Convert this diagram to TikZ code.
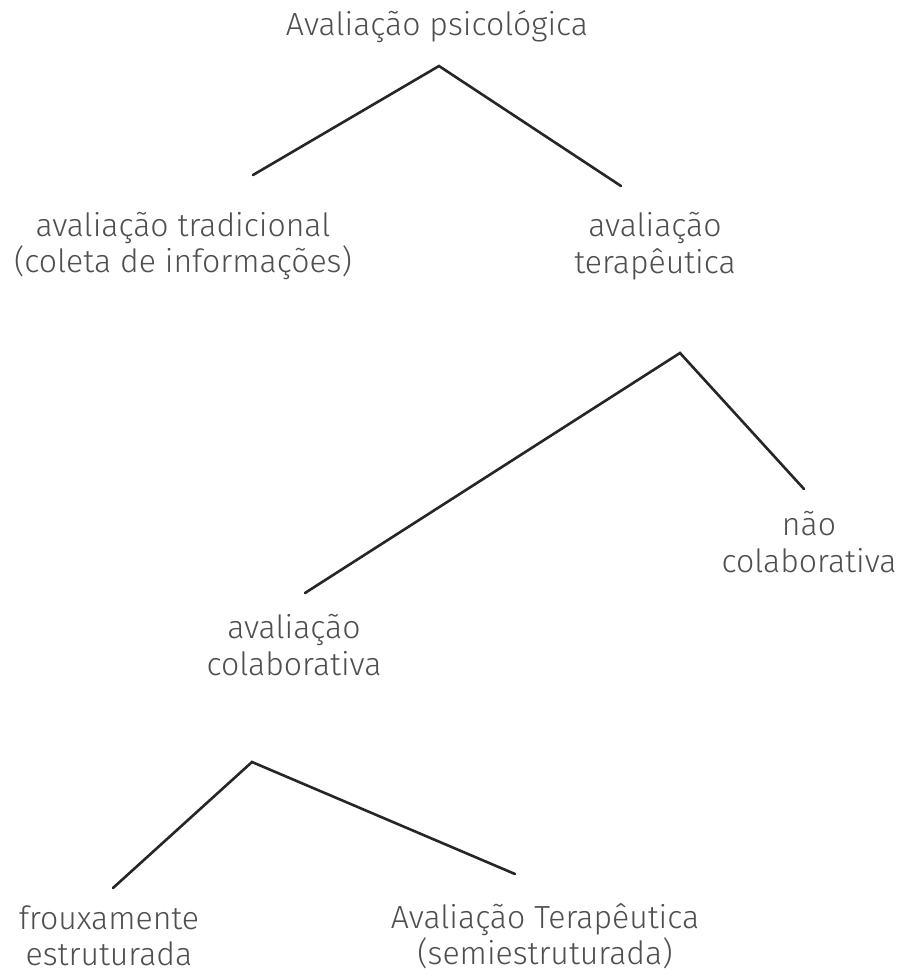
\documentclass[tikz,border=0pt]{standalone}
\usepackage{fontspec}
\setmainfont{Fira Sans Light}
\definecolor{txtgray}{HTML}{4F4F4F}
\definecolor{linegray}{HTML}{262626}
\begin{document}
\begin{tikzpicture}[x=1pt,y=-1pt,
  lbl/.style={font=\fontsize{32}{36.5}\selectfont, text=txtgray, align=center, inner sep=0pt},
  branch/.style={draw=linegray, line width=2.6pt, line cap=round, line join=miter}]
\useasboundingbox (0,0) rectangle (900,978);
\fill[white] (0,0) rectangle (900,978);
% nodes
\node[lbl] (root) at (437,27) {Avaliação psicológica};
\node[lbl] (trad) at (183,246) {avaliação tradicional\\(coleta de informações)};
\node[lbl] (ter) at (655,246) {avaliação\\terapêutica};
\node[lbl] (naocol) at (809,542) {não\\colaborativa};
\node[lbl] (col) at (294,645) {avaliação\\colaborativa};
\node[lbl] (frou) at (109,936) {frouxamente\\estruturada};
\node[lbl] (semi) at (545,936) {Avaliação Terapêutica\\(semiestruturada)};
% fork points
\coordinate (a1) at (439,66);
\coordinate (l1) at (253,175);
\coordinate (r1) at (621,186);
\coordinate (a2) at (680,353);
\coordinate (l2) at (305,593);
\coordinate (r2) at (804,489);
\coordinate (a3) at (252,762);
\coordinate (l3) at (113,888);
\coordinate (r3) at (515,874);
\draw[branch] (l1) -- (a1) -- (r1);
\draw[branch] (l2) -- (a2) -- (r2);
\draw[branch] (l3) -- (a3) -- (r3);
\end{tikzpicture}
\end{document}
